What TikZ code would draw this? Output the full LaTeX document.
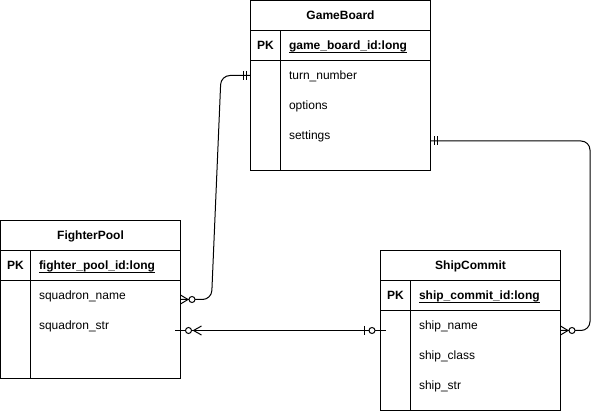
\documentclass[tikz,border=0pt]{standalone}
\usepackage{fontspec}
\setmainfont{Liberation Sans}
\newcommand\myul[1]{\leavevmode\setbox0=\hbox{#1}\rlap{\rule[-2.6pt]{\wd0}{0.9pt}}\box0}
\begin{document}
\begin{tikzpicture}[x=1pt,y=-1pt,line width=1pt]
\tikzset{
 box/.style={draw, line width=1pt, inner sep=0pt, outer sep=0pt, anchor=north west},
 hdr/.style={font=\fontsize{12}{14}\selectfont\bfseries, anchor=base, inner sep=0pt},
 pkl/.style={font=\fontsize{12}{14}\selectfont\bfseries, anchor=base, inner sep=0pt},
 pkf/.style={font=\fontsize{12}{14}\selectfont\bfseries, anchor=base west, inner sep=0pt},
 fld/.style={font=\fontsize{12}{14}\selectfont, anchor=base west, inner sep=0pt},
 conn/.style={line width=1pt, rounded corners=9pt},
 mk/.style={line width=1pt},
 ring/.style={draw, fill=white, line width=1pt, circle, minimum size=6pt, inner sep=0pt}
}
\useasboundingbox (0,0) rectangle (600,411);

% GameBoard
\node[box, minimum width=180pt, minimum height=170pt] (gb) at (250.5,0.5) {};
\draw ([yshift=-30pt]gb.north west) -- ([yshift=-30pt]gb.north east);
\draw ([yshift=-60pt]gb.north west) -- ([yshift=-60pt]gb.north east);
\draw ([shift={(30pt,-30pt)}]gb.north west) -- ([xshift=30pt]gb.south west);
\node[hdr] (gbh) at (340.5,20) {GameBoard};
\node[pkl] (gbpk) at (265.5,50) {PK};
\node[pkf] (gbid) at (288.5,50) {\myul{game\_board\_id:long}};
\node[fld] (gbf1) at (288.5,80) {turn\_number};
\node[fld] (gbf2) at (288.5,110) {options};
\node[fld] (gbf3) at (288.5,140) {settings};

% FighterPool
\node[box, minimum width=180pt, minimum height=158pt] (fp) at (0.5,220.5) {};
\draw ([yshift=-30pt]fp.north west) -- ([yshift=-30pt]fp.north east);
\draw ([yshift=-60pt]fp.north west) -- ([yshift=-60pt]fp.north east);
\draw ([shift={(30pt,-30pt)}]fp.north west) -- ([xshift=30pt]fp.south west);
\node[hdr] (fph) at (90.5,240) {FighterPool};
\node[pkl] (fppk) at (15.5,270) {PK};
\node[pkf] (fpid) at (38.5,270) {\myul{fighter\_pool\_id:long}};
\node[fld] (fpf1) at (38.5,300) {squadron\_name};
\node[fld] (fpf2) at (38.5,330) {squadron\_str};

% ShipCommit
\node[box, minimum width=180pt, minimum height=160pt] (sc) at (380.5,250.5) {};
\draw ([yshift=-30pt]sc.north west) -- ([yshift=-30pt]sc.north east);
\draw ([yshift=-60pt]sc.north west) -- ([yshift=-60pt]sc.north east);
\draw ([shift={(30pt,-30pt)}]sc.north west) -- ([xshift=30pt]sc.south west);
\node[hdr] (sch) at (470.5,270) {ShipCommit};
\node[pkl] (scpk) at (395.5,300) {PK};
\node[pkf] (scid) at (418.5,300) {\myul{ship\_commit\_id:long}};
\node[fld] (scf1) at (418.5,330) {ship\_name};
\node[fld] (scf2) at (418.5,360) {ship\_class};
\node[fld] (scf3) at (418.5,390) {ship\_str};

% connector 1: GameBoard -> FighterPool
\coordinate (c1a) at (250.5,75.5);
\coordinate (c1b) at (180.5,299.5);
\draw[conn] (c1a) -- (221,75.5) -- (211.5,299.5) -- (c1b);
\draw[mk] (243,71) -- (243,80) (246,71) -- (246,80);
\draw[mk] (180.5,295) -- (188,299.5) -- (180.5,304);
\node[ring] (r1) at (192,299.5) {};

% connector 2: GameBoard -> ShipCommit
\coordinate (c2a) at (430.5,141);
\coordinate (c2b) at (560.5,330.5);
\draw[conn] (c2a) -- (590,141) -- (590,330.5) -- (c2b);
\draw[mk] (434,136.5) -- (434,145.5) (437,136.5) -- (437,145.5);
\draw[mk] (560.5,326) -- (568,330.5) -- (560.5,335);
\node[ring] (r2) at (572,330.5) {};

% connector 3: FighterPool -- ShipCommit
\coordinate (c3a) at (175,330.5);
\coordinate (c3b) at (385.5,330.5);
\draw[conn] (c3a) -- (c3b);
\node[ring] (r3) at (188.5,330.5) {};
\draw[mk] (201.5,326) -- (193.5,330.5) -- (201.5,335);
\draw[mk] (364,326) -- (364,335);
\node[ring] (r4) at (372,330.5) {};
\end{tikzpicture}
\end{document}
